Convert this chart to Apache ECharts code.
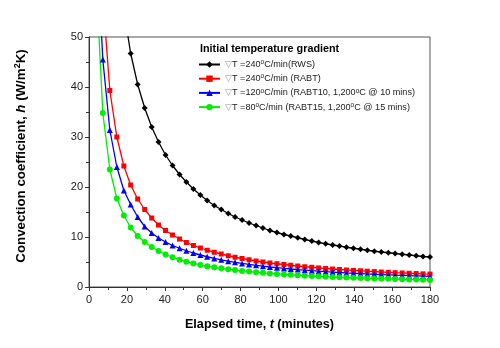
<!DOCTYPE html>
<html>
<head>
<meta charset="utf-8">
<script src="https://cdn.jsdelivr.net/npm/echarts@6/dist/echarts.min.js"></script>
<style>html,body{margin:0;padding:0;background:#fff}#c{width:500px;height:348px}</style>
</head>
<body>
<div id="c"></div>
<script>
// Elapsed time (minutes)
const times = [3.7,7.3,11.0,14.7,18.4,22.0,25.7,29.4,33.1,36.7,40.4,44.1,47.8,51.4,55.1,58.8,62.4,66.1,69.8,73.5,77.1,80.8,84.5,88.2,91.8,95.5,99.2,102.9,106.5,110.2,113.9,117.6,121.2,124.9,128.6,132.2,135.9,139.6,143.3,146.9,150.6,154.3,158.0,161.6,165.3,169.0,172.7,176.3,180.0];
// Convection coefficient h (W/m2K)
const rws = [260,135,90,68.5,55.4,46.7,40.5,35.8,32.0,29.0,26.4,24.3,22.5,21.0,19.6,18.4,17.3,16.3,15.5,14.7,14.0,13.4,12.8,12.3,11.8,11.3,10.9,10.5,10.2,9.85,9.5,9.2,8.9,8.65,8.4,8.2,7.95,7.75,7.55,7.35,7.15,7.0,6.85,6.7,6.55,6.4,6.25,6.1,6.0];
const rabt = [115,58,39.3,30.0,24.2,20.4,17.6,15.5,13.8,12.4,11.3,10.4,9.6,8.9,8.3,7.8,7.35,6.95,6.6,6.25,5.95,5.7,5.45,5.2,5.0,4.8,4.65,4.5,4.35,4.2,4.05,3.95,3.82,3.7,3.6,3.5,3.4,3.32,3.24,3.16,3.08,3.0,2.94,2.87,2.81,2.75,2.69,2.63,2.58];
const rabt10 = [72,45.5,31.4,24.0,19.3,16.5,14.0,12.1,10.8,9.8,9.0,8.3,7.75,7.25,6.8,6.4,6.05,5.72,5.43,5.17,4.93,4.72,4.52,4.33,4.16,4.0,3.86,3.72,3.6,3.48,3.37,3.26,3.16,3.07,2.98,2.9,2.82,2.75,2.68,2.61,2.55,2.49,2.43,2.37,2.32,2.27,2.22,2.17,2.12];
const rabt15 = [62,34.8,23.5,17.7,14.3,11.9,10.2,9.0,8.0,7.2,6.5,5.95,5.47,5.07,4.72,4.42,4.17,3.94,3.73,3.55,3.38,3.22,3.08,2.95,2.83,2.72,2.62,2.52,2.43,2.35,2.27,2.2,2.13,2.07,2.01,1.95,1.9,1.85,1.8,1.75,1.71,1.67,1.63,1.59,1.55,1.52,1.48,1.45,1.42];
const seriesNames = ['{g|▽}T =240{s|o}C/min(RWS)','{g|▽}T =240{s|o}C/min (RABT)','{g|▽}T =120{s|o}C/min (RABT10, 1,200{s|o}C @ 10 mins)','{g|▽}T =80{s|o}C/min (RABT15, 1,200{s|o}C @ 15 mins)'];
const seriesData = [rws, rabt, rabt10, rabt15];
const colors = ['#000000','#ff0000','#0000ff','#00ee00'];
const symbols = ['diamond','rect','triangle','circle'];
const symbolSizes = [6,5,6,6];

const chart = echarts.init(document.getElementById('c'), null, {renderer:'canvas'});
const font = 'Liberation Sans, Arial, sans-serif';
const series = seriesData.map((d,i)=>({
  name: seriesNames[i],
  type: 'line',
  data: d.map((v,j)=>[times[j], v]),
  symbol: symbols[i],
  symbolSize: symbolSizes[i],
  showAllSymbol: true,
  clip: true,
  lineStyle: {color: colors[i], width: 1.3},
  itemStyle: {color: colors[i]},
  animation: false
}));
chart.setOption({
  animation: false,
  textStyle: {fontFamily: font},
  grid: {left: 89, right: 70, top: 37, bottom: 61, show: true, borderColor: '#555', borderWidth: 1},
  title: {
    text: 'Initial temperature gradient',
    left: 195, top: 39,
    textStyle: {fontFamily: font, fontSize: 10.8, fontWeight: 'bold', color: '#000'}
  },
  legend: {
    orient: 'vertical', left: 193, top: 54,
    itemWidth: 21, itemHeight: 8, itemGap: 2.2,
    data: seriesNames,
    textStyle: {
      fontFamily: font, fontSize: 9.1, color: '#222', lineHeight: 11,
      rich: {
        s: {fontSize: 6.5, verticalAlign: 'top', lineHeight: 8, padding:[0,0,5,0], color:'#222'},
        g: {fontSize: 9.1, color: '#999'}
      }
    }
  },
  xAxis: {
    type: 'value', min: 0, max: 180, interval: 20,
    name: 'Elapsed time, {i|t} (minutes)',
    nameLocation: 'middle', nameGap: 31,
    nameTextStyle: {fontFamily: font, fontSize: 12.6, fontWeight: 'bold', color: '#000',
      rich: {i: {fontStyle: 'italic', fontWeight: 'bold', fontSize: 12.6, fontFamily: font, color:'#000'}}},
    axisLine: {lineStyle: {color: '#333', width: 1}},
    axisTick: {show: true, length: 4, lineStyle: {color: '#333'}},
    minorTick: {show: true, splitNumber: 2, length: 3, lineStyle: {color: '#333'}},
    axisLabel: {fontFamily: font, fontSize: 11, color: '#222', margin: 7},
    splitLine: {show: false}
  },
  yAxis: {
    type: 'value', min: 0, max: 50, interval: 10,
    name: 'Convection coefficient, {i|h} (W/m{s|2}K)',
    nameLocation: 'middle', nameGap: 60, nameRotate: 90,
    nameTextStyle: {fontFamily: font, fontSize: 13.3, fontWeight: 'bold', color: '#000', padding: [0, 0, 0, 12],
      rich: {i: {fontStyle: 'italic', fontWeight: 'bold', fontSize: 13.3, fontFamily: font, color:'#000'},
             s: {fontSize: 9, fontWeight: 'bold', fontFamily: font, color:'#000', verticalAlign:'top', padding:[0,0,7,0]}}},
    axisLine: {show: true, lineStyle: {color: '#333', width: 1}},
    axisTick: {show: true, length: 4, lineStyle: {color: '#333'}},
    minorTick: {show: true, splitNumber: 2, length: 3, lineStyle: {color: '#333'}},
    axisLabel: {fontFamily: font, fontSize: 11, color: '#222', margin: 6},
    splitLine: {show: false}
  },
  series: series
});
</script>
</body>
</html>
